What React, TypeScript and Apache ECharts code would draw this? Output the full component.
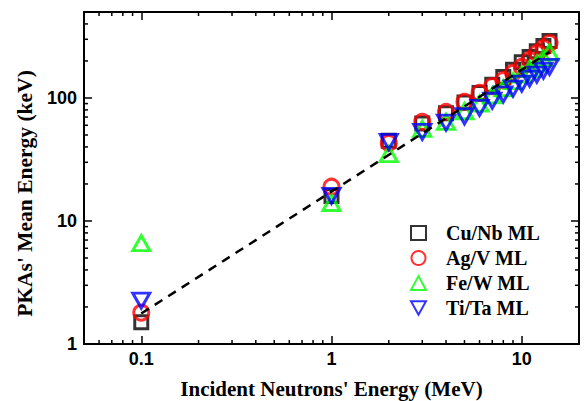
import React, { useEffect, useRef } from "react";
import * as echarts from "echarts";

const energies = [0.1, 1, 2, 3, 4, 5, 6, 7, 8, 9, 10, 11, 12, 13, 14];
const cuNb = [1.5, 16, 45, 62, 75, 92, 110, 128, 148, 170, 195, 215, 240, 265, 290];
const agV = [1.8, 19, 43, 64, 77, 93, 110, 125, 140, 160, 179, 204, 232, 255, 280];
const feW = [6.6, 14, 35, 56, 64, 78, 90, 105, 120, 137, 155, 172, 190, 210, 235];
const tiTa = [2.25, 16, 44, 53, 63, 71, 83, 95, 107, 119, 131, 144, 155, 167, 179];
const fitX = [0.1, 14];
const fitY = [1.77, 237];

const xMin = 0.05;
const xMax = 20;
const yMin = 1;
const yMax = 500;
const xMinorTicks = [0.06, 0.07, 0.08, 0.09, 0.2, 0.3, 0.4, 0.5, 0.6, 0.7, 0.8, 0.9, 2, 3, 4, 5, 6, 7, 8, 9];
const yMinorTicks = [2, 3, 4, 5, 6, 7, 8, 9, 20, 30, 40, 50, 60, 70, 80, 90, 200, 300, 400];

const SERIF = "'Liberation Serif', 'Times New Roman', serif";
const SANS = "'Liberation Sans', Arial, sans-serif";

const decadeLabel = (v: number) => {
  const l = Math.log10(v);
  if (Math.abs(l - Math.round(l)) < 1e-6) {
    return String(parseFloat(Math.pow(10, Math.round(l)).toPrecision(3)));
  }
  return "";
};

const pair = (xs: number[], ys: number[]) => xs.map((x, i) => [x, ys[i]]);

export default function App() {
  const ref = useRef<HTMLDivElement>(null);
  useEffect(() => {
    if (!ref.current) return;
    const chart = echarts.init(ref.current, undefined, { renderer: "svg" });
    const axisLine = { show: true, lineStyle: { color: "#000", width: 2 } };
    const tick = { show: true, inside: true, length: 8, lineStyle: { color: "#000", width: 1.5 } };
    const markerBorder = 3;
    const series: any[] = [
      {
        name: "Cu/Nb ML",
        type: "scatter",
        symbol: "rect",
        symbolSize: 13,
        data: pair(energies, cuNb),
        itemStyle: { color: "rgba(0,0,0,0)", borderColor: "#000000", borderWidth: markerBorder },
        z: 3,
      },
      {
        name: "Ag/V ML",
        type: "scatter",
        symbol: "circle",
        symbolSize: 15,
        data: pair(energies, agV),
        itemStyle: { color: "rgba(0,0,0,0)", borderColor: "#ff0000", borderWidth: markerBorder },
        z: 4,
      },
      {
        name: "Fe/W ML",
        type: "scatter",
        symbol: "triangle",
        symbolSize: [17, 15],
        data: pair(energies, feW),
        itemStyle: { color: "rgba(0,0,0,0)", borderColor: "#00ff00", borderWidth: markerBorder },
        z: 5,
      },
      {
        name: "Ti/Ta ML",
        type: "scatter",
        symbol: "path://M0,0L10,0L5,9Z",
        symbolSize: [17, 15],
        data: pair(energies, tiTa),
        itemStyle: { color: "rgba(0,0,0,0)", borderColor: "#0000ff", borderWidth: markerBorder },
        z: 6,
      },
      {
        name: "fit",
        type: "line",
        data: pair(fitX, fitY),
        symbol: "none",
        lineStyle: { color: "#000", width: 2.5, type: [9, 7] },
        z: 7,
        silent: true,
      },
      {
        name: "xminor",
        type: "custom",
        data: xMinorTicks.map((v) => [v, yMin]),
        silent: true,
        z: 2,
        renderItem: (_p: any, api: any) => {
          const v = api.value(0);
          const b = api.coord([v, yMin]);
          const t = api.coord([v, yMax]);
          const st = { stroke: "#000", lineWidth: 1.5 };
          return {
            type: "group",
            children: [
              { type: "line", shape: { x1: b[0], y1: b[1], x2: b[0], y2: b[1] - 4 }, style: st },
              { type: "line", shape: { x1: t[0], y1: t[1], x2: t[0], y2: t[1] + 4 }, style: st },
            ],
          };
        },
      },
      {
        name: "yminor",
        type: "custom",
        data: yMinorTicks.map((v) => [xMin, v]),
        silent: true,
        z: 2,
        renderItem: (_p: any, api: any) => {
          const v = api.value(1);
          const l = api.coord([xMin, v]);
          const r = api.coord([xMax, v]);
          const st = { stroke: "#000", lineWidth: 1.5 };
          return {
            type: "group",
            children: [
              { type: "line", shape: { x1: l[0], y1: l[1], x2: l[0] + 4, y2: l[1] }, style: st },
              { type: "line", shape: { x1: r[0], y1: r[1], x2: r[0] - 4, y2: r[1] }, style: st },
            ],
          };
        },
      },
    ];

    chart.setOption({
      animation: false,
      backgroundColor: "#ffffff",
      grid: { left: 84, top: 12, width: 495, height: 332, outerBoundsMode: "none", containLabel: false },
      legend: {
        data: ["Cu/Nb ML", "Ag/V ML", "Fe/W ML", "Ti/Ta ML"],
        orient: "vertical",
        left: 405,
        top: 218,
        itemWidth: 15,
        itemHeight: 14,
        itemGap: 5,
        selectedMode: false,
        textStyle: {
          fontFamily: SERIF,
          fontWeight: "bold",
          fontSize: 20,
          color: "#000",
          padding: [0, 0, 0, 15],
        },
      },
      xAxis: [
        {
          type: "log",
          logBase: 10,
          min: xMin,
          max: xMax,
          position: "bottom",
          axisLine,
          axisTick: tick,
          splitLine: { show: false },
          axisLabel: {
            formatter: decadeLabel,
            fontFamily: SANS,
            fontWeight: "bold",
            fontSize: 18,
            color: "#000",
            margin: 6,
            showMinLabel: true,
            showMaxLabel: true,
          },
          name: "Incident Neutrons' Energy (MeV)",
          nameLocation: "middle",
          nameGap: 34,
          nameTextStyle: { fontFamily: SERIF, fontWeight: "bold", fontSize: 21, color: "#000" },
        },
        {
          type: "log",
          logBase: 10,
          min: xMin,
          max: xMax,
          position: "top",
          axisLine,
          axisTick: tick,
          splitLine: { show: false },
          axisLabel: { show: false },
        },
      ],
      yAxis: [
        {
          type: "log",
          logBase: 10,
          min: yMin,
          max: yMax,
          position: "left",
          axisLine,
          axisTick: tick,
          splitLine: { show: false },
          axisLabel: {
            formatter: decadeLabel,
            fontFamily: SANS,
            fontWeight: "bold",
            fontSize: 18,
            color: "#000",
            margin: 7,
          },
          name: "PKAs' Mean Energy (keV)",
          nameLocation: "middle",
          nameGap: 48,
          nameTextStyle: {
            fontFamily: SERIF,
            fontWeight: "bold",
            fontSize: 21.5,
            color: "#000",
            padding: [0, 31, 0, 0],
          },
        },
        {
          type: "log",
          logBase: 10,
          min: yMin,
          max: yMax,
          position: "right",
          axisLine,
          axisTick: tick,
          splitLine: { show: false },
          axisLabel: { show: false },
        },
      ],
      series,
    });
    return () => chart.dispose();
  }, []);
  return (
    <div
      ref={ref}
      style={{ position: "absolute", left: 0, top: 0, width: 585, height: 401, background: "#fff" }}
    />
  );
}
